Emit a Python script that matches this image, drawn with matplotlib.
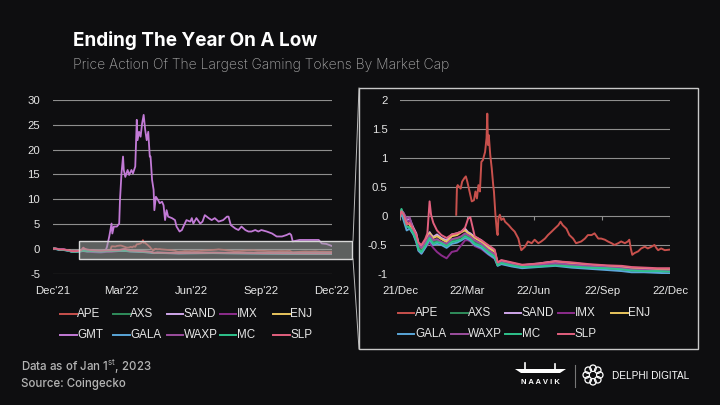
import matplotlib
matplotlib.use('Agg')
import matplotlib.pyplot as plt
import pandas as pd
from matplotlib.lines import Line2D
from matplotlib.patches import Rectangle, Circle, Polygon
import numpy as np

plt.rcParams['mathtext.fontset'] = 'custom'
plt.rcParams['mathtext.rm'] = 'Inter'

BG = '#0e0e10'
GRID = '#8e8e8e'
TXT = '#e6e6e6'

# ---------------- data ----------------
tokens_left = ['APE', 'AXS', 'SAND', 'IMX', 'ENJ', 'GMT', 'GALA', 'WAXP', 'MC', 'SLP']
tokens_right = ['APE', 'AXS', 'SAND', 'IMX', 'ENJ', 'GALA', 'WAXP', 'MC', 'SLP']
colors = {'APE': '#c8504c', 'AXS': '#2f8d5c', 'SAND': '#cfa6ea', 'IMX': '#8c2c8c',
          'ENJ': '#e8c45e', 'GMT': '#c27ad6', 'GALA': '#5aa6d8', 'WAXP': '#9c4e9e',
          'MC': '#2ec28c', 'SLP': '#e2607e'}

tick_dates = ['2021-12-31', '2022-03-31', '2022-06-30', '2022-09-30', '2022-12-31']
left_tick_labels = ["Dec'21", "Mar'22", "Jun'22", "Sep'22", "Dec'22"]
right_tick_labels = ['21/Dec', '22/Mar', '22/Jun', '22/Sep', '22/Dec']
left_yticks = [30, 25, 20, 15, 10, 5, 0, -5]
right_yticks = [2, 1.5, 1, 0.5, 0, -0.5, -1]
right_ytick_labels = ['2', '1.5', '1', '0.5', '0', '-0.5', '-1']

ape_dates = ['2022-03-17', '2022-03-18', '2022-03-19', '2022-03-23', '2022-03-25', '2022-03-28',
             '2022-03-30', '2022-04-01', '2022-04-04', '2022-04-07', '2022-04-10', '2022-04-12',
             '2022-04-14', '2022-04-16', '2022-04-18', '2022-04-20', '2022-04-22', '2022-04-25',
             '2022-04-26', '2022-04-27', '2022-04-28', '2022-04-29', '2022-04-30', '2022-05-02',
             '2022-05-04', '2022-05-06', '2022-05-07', '2022-05-09', '2022-05-11', '2022-05-12',
             '2022-05-13', '2022-05-15', '2022-05-17', '2022-05-20', '2022-05-22', '2022-05-27',
             '2022-05-31', '2022-06-04', '2022-06-09', '2022-06-11', '2022-06-13', '2022-06-18',
             '2022-06-22', '2022-06-27', '2022-07-01', '2022-07-06', '2022-07-10', '2022-07-15',
             '2022-07-19', '2022-07-24', '2022-07-28', '2022-08-02', '2022-08-05', '2022-08-08',
             '2022-08-13', '2022-08-17', '2022-08-22', '2022-08-26', '2022-09-02', '2022-09-07',
             '2022-09-11', '2022-09-16', '2022-09-20', '2022-09-25', '2022-09-29', '2022-10-04',
             '2022-10-08', '2022-10-13', '2022-10-17', '2022-10-22', '2022-10-26', '2022-10-31',
             '2022-11-04', '2022-11-06', '2022-11-08', '2022-11-10', '2022-11-13', '2022-11-18',
             '2022-11-22', '2022-11-27', '2022-12-01', '2022-12-06', '2022-12-10', '2022-12-13',
             '2022-12-15', '2022-12-19', '2022-12-24', '2022-12-31']
ape_vals = [0.02, 0.50, 0.53, 0.47, 0.59, 0.65,
            0.68, 0.59, 0.42, 0.25, 0.27, 0.42,
            0.30, 0.53, 0.42, 0.93, 0.96, 1.10,
            1.22, 1.34, 1.76, 1.22, 1.39, 1.05,
            0.82, 0.53, 0.42, 0.02, -0.27, -0.33,
            -0.04, 0.02, -0.07, -0.04, -0.10, -0.16,
            -0.22, -0.27, -0.39, -0.50, -0.59, -0.53,
            -0.44, -0.47, -0.41, -0.47, -0.44, -0.39,
            -0.33, -0.27, -0.22, -0.16, -0.10, -0.16,
            -0.22, -0.33, -0.39, -0.47, -0.44, -0.39,
            -0.33, -0.33, -0.30, -0.39, -0.39, -0.41,
            -0.44, -0.47, -0.50, -0.47, -0.44, -0.47,
            -0.44, -0.41, -0.56, -0.67, -0.64, -0.61,
            -0.56, -0.53, -0.56, -0.53, -0.50, -0.56,
            -0.59, -0.56, -0.59, -0.58]

gmt_dates = ['2022-03-11', '2022-03-12', '2022-03-15', '2022-03-18', '2022-03-19', '2022-03-21',
             '2022-03-25', '2022-03-28', '2022-03-29', '2022-03-31', '2022-04-02', '2022-04-03',
             '2022-04-05', '2022-04-08', '2022-04-10', '2022-04-13', '2022-04-15', '2022-04-18',
             '2022-04-20', '2022-04-21', '2022-04-23', '2022-04-25', '2022-04-27', '2022-04-29',
             '2022-05-01', '2022-05-03', '2022-05-05', '2022-05-07', '2022-05-08', '2022-05-10',
             '2022-05-12', '2022-05-13', '2022-05-15', '2022-05-18', '2022-05-20', '2022-05-23',
             '2022-05-25', '2022-05-27', '2022-05-29', '2022-05-31', '2022-06-05', '2022-06-09',
             '2022-06-11', '2022-06-15', '2022-06-18', '2022-06-20', '2022-06-24', '2022-06-29',
             '2022-07-01', '2022-07-03', '2022-07-07', '2022-07-12', '2022-07-15', '2022-07-18',
             '2022-07-23', '2022-07-27', '2022-07-31', '2022-08-05', '2022-08-11', '2022-08-16',
             '2022-08-18', '2022-08-21', '2022-08-27', '2022-08-31', '2022-09-04', '2022-09-09',
             '2022-09-13', '2022-09-17', '2022-09-22', '2022-09-26', '2022-09-30', '2022-10-07',
             '2022-10-14', '2022-10-20', '2022-10-27', '2022-11-02', '2022-11-06', '2022-11-08',
             '2022-11-10', '2022-11-19', '2022-11-28', '2022-12-07', '2022-12-14', '2022-12-18',
             '2022-12-24', '2022-12-31']
gmt_vals = [0.0, 0.4, 2.5, 5.1, 3.1, 4.5,
            4.5, 5.1, 9.8, 15.2, 18.6, 15.9,
            14.5, 15.9, 14.9, 15.9, 15.2, 16.6,
            26.0, 21.9, 23.6, 22.6, 25.3, 27.0,
            24.0, 21.9, 23.6, 18.6, 18.6, 13.9,
            11.9, 7.8, 10.5, 9.8, 9.2, 9.5,
            8.8, 5.8, 7.8, 6.5, 6.2, 5.8,
            4.5, 3.5, 3.8, 4.5, 5.8, 5.5,
            6.2, 5.1, 6.2, 5.1, 5.5, 6.8,
            6.2, 5.8, 6.2, 5.5, 5.8, 6.5,
            6.5, 4.8, 4.1, 3.8, 4.5, 3.8,
            3.5, 3.5, 3.8, 3.5, 3.8, 3.5,
            3.1, 2.5, 2.5, 2.8, 3.1, 2.8,
            1.5, 1.8, 1.8, 1.8, 1.8, 1.1,
            1.0, 0.6]

bundle_dates = ['2021-12-31', '2022-01-02', '2022-01-05', '2022-01-09', '2022-01-13', '2022-01-18',
                '2022-01-22', '2022-01-25', '2022-01-29', '2022-02-03', '2022-02-06', '2022-02-09',
                '2022-02-11', '2022-02-14', '2022-02-19', '2022-02-25', '2022-03-04', '2022-03-11',
                '2022-03-18', '2022-03-24', '2022-03-29', '2022-04-02', '2022-04-05', '2022-04-11',
                '2022-04-20', '2022-04-29', '2022-05-08', '2022-05-12', '2022-05-17', '2022-05-31',
                '2022-06-14', '2022-07-06', '2022-07-29', '2022-08-20', '2022-09-12', '2022-10-05',
                '2022-10-27', '2022-11-09', '2022-11-26', '2022-12-14', '2022-12-31']
slp_vals = [0.0, 0.08, 0.02, -0.15, -0.12, -0.22, -0.32, -0.46, -0.50, -0.40, -0.30, 0.25,
            0.02, -0.12, -0.25, -0.33, -0.38, -0.32, -0.30, -0.27, -0.20, -0.05, -0.02, -0.35,
            -0.42, -0.50, -0.58, -0.80, -0.76, -0.80, -0.84, -0.82, -0.78, -0.80, -0.83, -0.85,
            -0.86, -0.88, -0.89, -0.90, -0.90]
enj_vals = [0.0, 0.06, -0.02, -0.12, -0.15, -0.25, -0.35, -0.50, -0.55, -0.45, -0.38, -0.30,
            -0.33, -0.38, -0.35, -0.40, -0.45, -0.35, -0.33, -0.28, -0.25, -0.30, -0.32, -0.38,
            -0.45, -0.55, -0.62, -0.82, -0.78, -0.82, -0.86, -0.83, -0.79, -0.82, -0.85, -0.87,
            -0.89, -0.91, -0.92, -0.93, -0.93]
sand_vals = [0.0, 0.10, 0.04, -0.08, -0.05, -0.20, -0.30, -0.48, -0.52, -0.42, -0.35, -0.28,
             -0.32, -0.36, -0.32, -0.38, -0.42, -0.32, -0.30, -0.27, -0.22, -0.28, -0.30, -0.36,
             -0.42, -0.52, -0.60, -0.82, -0.77, -0.81, -0.85, -0.82, -0.78, -0.81, -0.84, -0.86,
             -0.88, -0.90, -0.91, -0.92, -0.92]
axs_vals = [0.0, 0.05, -0.05, -0.20, -0.18, -0.28, -0.38, -0.55, -0.60, -0.50, -0.42, -0.35,
            -0.40, -0.45, -0.42, -0.45, -0.50, -0.42, -0.40, -0.36, -0.32, -0.35, -0.37, -0.45,
            -0.50, -0.60, -0.68, -0.84, -0.80, -0.84, -0.88, -0.86, -0.83, -0.86, -0.88, -0.90,
            -0.91, -0.93, -0.94, -0.95, -0.95]
mc_vals = [0.0, 0.12, 0.0, -0.18, -0.20, -0.30, -0.42, -0.58, -0.62, -0.52, -0.45, -0.38,
           -0.42, -0.48, -0.45, -0.47, -0.52, -0.45, -0.43, -0.40, -0.35, -0.38, -0.40, -0.48,
           -0.52, -0.62, -0.70, -0.85, -0.81, -0.85, -0.88, -0.87, -0.85, -0.87, -0.89, -0.90,
           -0.92, -0.94, -0.95, -0.95, -0.96]
waxp_vals = [0.0, 0.08, 0.05, -0.05, -0.02, -0.25, -0.40, -0.50, -0.55, -0.45, -0.40, -0.33,
             -0.36, -0.42, -0.40, -0.45, -0.48, -0.40, -0.38, -0.35, -0.30, -0.33, -0.35, -0.42,
             -0.48, -0.58, -0.66, -0.83, -0.79, -0.83, -0.87, -0.84, -0.81, -0.84, -0.86, -0.88,
             -0.90, -0.92, -0.93, -0.94, -0.94]
gala_vals = [0.0, 0.04, -0.08, -0.25, -0.22, -0.32, -0.45, -0.60, -0.65, -0.55, -0.48, -0.40,
             -0.45, -0.50, -0.48, -0.50, -0.55, -0.48, -0.46, -0.42, -0.38, -0.40, -0.42, -0.50,
             -0.55, -0.65, -0.73, -0.86, -0.83, -0.87, -0.90, -0.88, -0.86, -0.89, -0.91, -0.93,
             -0.95, -0.97, -0.97, -0.98, -0.99]
imx_vals = [0.0, 0.07, -0.02, -0.10, -0.08, -0.30, -0.45, -0.60, -0.65, -0.55, -0.50, -0.45,
            -0.50, -0.55, -0.62, -0.68, -0.73, -0.62, -0.60, -0.50, -0.42, -0.42, -0.44, -0.52,
            -0.57, -0.66, -0.74, -0.85, -0.82, -0.86, -0.89, -0.86, -0.84, -0.87, -0.89, -0.91,
            -0.92, -0.94, -0.95, -0.96, -0.96]

series = {
    'APE': (ape_dates, ape_vals), 'GMT': (gmt_dates, gmt_vals),
    'AXS': (bundle_dates, axs_vals), 'SAND': (bundle_dates, sand_vals),
    'IMX': (bundle_dates, imx_vals), 'ENJ': (bundle_dates, enj_vals),
    'GALA': (bundle_dates, gala_vals), 'WAXP': (bundle_dates, waxp_vals),
    'MC': (bundle_dates, mc_vals), 'SLP': (bundle_dates, slp_vals),
}

# ---------------- figure ----------------
W, H = 720, 405
fig = plt.figure(figsize=(7.2, 4.05), dpi=100, facecolor=BG)


def fx(x):
    return x / W


def fy(y):
    return 1 - y / H


def style_axis(ax, yticks, ylabels, xlabels):
    ax.set_facecolor('none')
    for s in ax.spines.values():
        s.set_visible(False)
    ax.set_xlim(pd.Timestamp(tick_dates[0]), pd.Timestamp(tick_dates[-1]))
    ax.set_xticks(pd.to_datetime(tick_dates))
    ax.set_xticklabels(xlabels)
    ax.set_yticks(yticks)
    ax.set_yticklabels(ylabels)
    ax.yaxis.grid(True, color=GRID, lw=0.8)
    ax.set_axisbelow(True)
    ax.tick_params(length=0, colors=TXT, labelsize=8.2, pad=9)
    for lab in ax.get_xticklabels() + ax.get_yticklabels():
        lab.set_fontfamily('Liberation Sans')


axL = fig.add_axes([fx(52.7), fy(273.7), fx(279), 173.7 / H])
style_axis(axL, left_yticks, [str(v) for v in left_yticks], left_tick_labels)
axL.set_ylim(-5, 30)
for t in tokens_left:
    d, v = series[t]
    axL.plot(pd.to_datetime(d), v, color=colors[t], lw=1.3)

axR = fig.add_axes([fx(400), fy(274), fx(270), 174.3 / H])
style_axis(axR, right_yticks, right_ytick_labels, right_tick_labels)
axR.set_ylim(-1, 2)
axR.vlines(pd.to_datetime(tick_dates), -0.07, 0, color=GRID, lw=0.8)
for t in tokens_right:
    d, v = series[t]
    axR.plot(pd.to_datetime(d), v, color=colors[t], lw=1.4)

# highlight box and zoom connectors
fig.patches.append(Rectangle((fx(79.3), fy(259)), fx(273), 18 / H, transform=fig.transFigure,
                             facecolor='#a0a4a2', alpha=0.55, edgecolor='none', zorder=3))
fig.patches.append(Rectangle((fx(79.3), fy(259)), fx(273), 18 / H, transform=fig.transFigure,
                             facecolor='none', edgecolor='#d8d8d8', lw=1.0, zorder=4))
fig.patches.append(Rectangle((fx(359), fy(349)), fx(339), 261 / H, transform=fig.transFigure,
                             facecolor='none', edgecolor='#c8c8c8', lw=1.0, zorder=4))
fig.add_artist(Line2D([fx(353), fx(359)], [fy(241), fy(88)], color='#bbbbbb', lw=0.7))
fig.add_artist(Line2D([fx(353), fx(359)], [fy(259), fy(349)], color='#bbbbbb', lw=0.7))


# legends (fixed-width columns, as in the source)
def draw_legend(tokens, x0, ys):
    for i, t in enumerate(tokens):
        col, row = i % 5, i // 5
        x = x0 + col * 53.3
        y = ys[row]
        fig.add_artist(Line2D([fx(x), fx(x + 16.5)], [fy(y), fy(y)], color=colors[t], lw=1.4))
        fig.text(fx(x + 17), fy(y), t, color=TXT, fontsize=8.4, family='Liberation Sans',
                 ha='left', va='center')


draw_legend(tokens_left, 60, [314.3, 335])
draw_legend(tokens_right, 398, [313.3, 334])

# titles
fig.text(fx(73), fy(45.7), 'Ending The Year On A Low', color='white', fontsize=13.6,
         family='Inter', weight='bold', va='baseline')
fig.text(fx(73), fy(69.3), 'Price Action Of The Largest Gaming Tokens By Market Cap',
         color='#a8a8a8', fontsize=10, family='Inter', weight='light', va='baseline')

# footer
fig.text(fx(21), fy(370.5), 'Data as of Jan 1$^{\\mathrm{st}}$, 2023', color='#b4b4b4',
         fontsize=8.3, family='Inter', weight='medium', va='baseline')
fig.text(fx(21), fy(386.5), 'Source: Coingecko', color='#b4b4b4',
         fontsize=8.3, family='Inter', weight='medium', va='baseline')

# logos
fig.patches.append(Polygon([(fx(515), fy(369)), (fx(566), fy(369)), (fx(560), fy(373)),
                            (fx(521), fy(373))], closed=True, transform=fig.transFigure,
                           facecolor='white', edgecolor='none'))
fig.add_artist(Line2D([fx(525), fx(525)], [fy(369), fy(363)], color='white', lw=1.2))
fig.add_artist(Line2D([fx(555), fx(555)], [fy(369), fy(364)], color='white', lw=1.2))
fig.text(fx(540), fy(383), 'N A A V I K', color='white', fontsize=5.5, family='Liberation Sans',
         weight='bold', ha='center', va='center')
fig.add_artist(Line2D([fx(575), fx(575)], [fy(365), fy(387)], color='#777777', lw=0.8))
lax = fig.add_axes([fx(582), fy(386), fx(22), 22 / H])
lax.set_xlim(-1.1, 1.1)
lax.set_ylim(-1.1, 1.1)
lax.set_aspect('equal')
lax.axis('off')
for k in range(8):
    a = k * np.pi / 4
    lax.add_patch(Circle((0.68 * np.cos(a), 0.68 * np.sin(a)), 0.32, facecolor='none',
                         edgecolor='white', lw=0.9))
fig.text(fx(612), fy(376), 'DELPHI DIGITAL', color='white', fontsize=7.2,
         family='Liberation Sans', ha='left', va='center')

fig.savefig('out.png', dpi=100, facecolor=BG)
